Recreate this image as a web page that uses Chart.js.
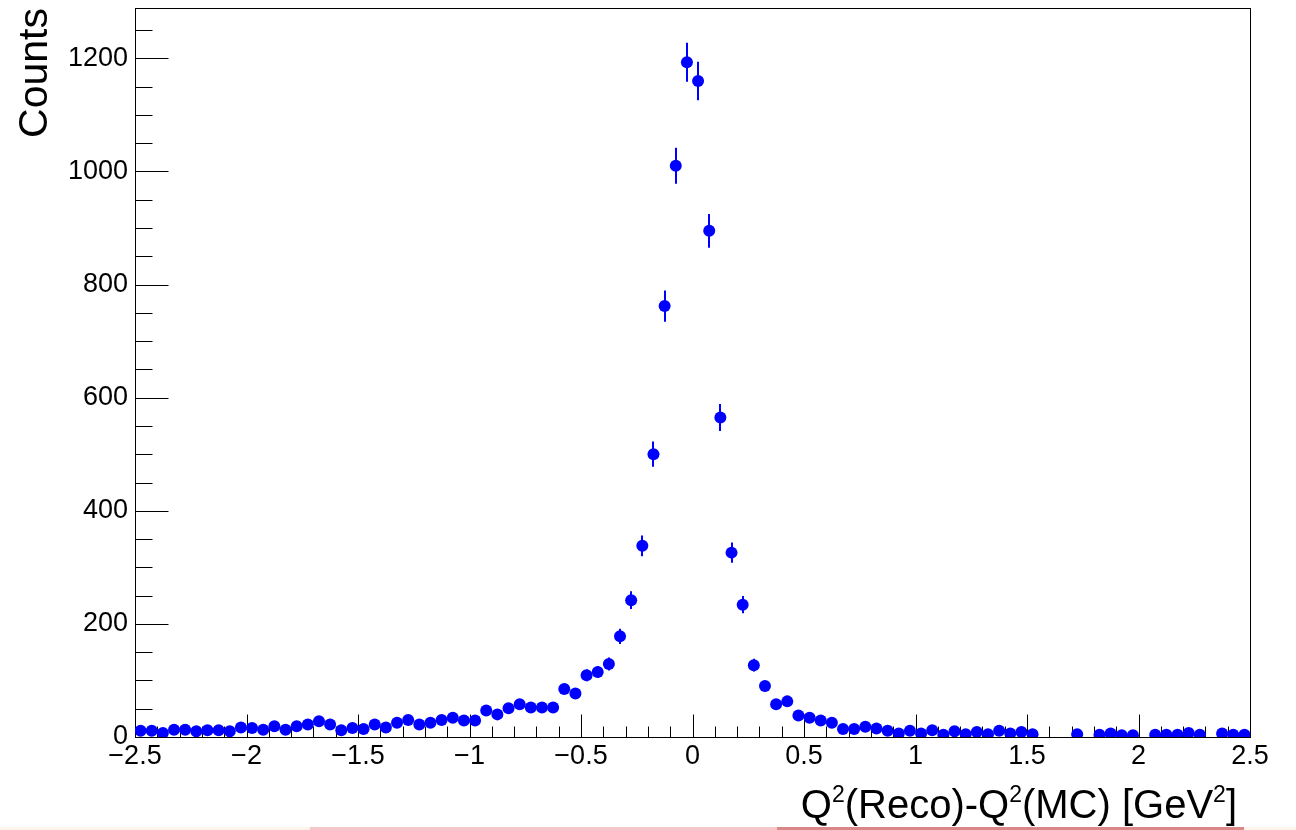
<!DOCTYPE html>
<html lang="en">
<head>
<meta charset="UTF-8">
<title>Q2 resolution</title>
<script src="https://cdn.jsdelivr.net/npm/chart.js"></script>
<style>
    * { margin: 0; padding: 0; box-sizing: border-box; }
    body { background: #fff; width: 1296px; height: 830px; overflow: hidden; position: relative; }
    #chart { position: absolute; left: 0; top: 0; }
    .strip { position: absolute; top: 827px; height: 3px; }
</style>
</head>
<body>
<canvas id="chart" width="1296" height="830"></canvas>
<div class="strip" style="left:0;width:310px;background:#fdf4ee"></div>
<div class="strip" style="left:310px;width:467px;background:#f4c8c8"></div>
<div class="strip" style="left:777px;width:467px;background:#d98787"></div>
<div class="strip" style="left:1244px;width:52px;background:#fdf4ee"></div>

<script>
    // histogram binning: 100 bins from -2.5 to 2.5
    const binLow = -2.5;
    const binWidth = 0.05;

    // counts per bin (null = empty bin, not drawn)
    const counts = [
        11, 11, 7, 13, 13, 10, 12, 12, 10, 17,
        16, 13, 19, 13, 19, 22, 28, 22, 12, 16,
        14, 22, 17, 25, 30, 22, 25, 30, 34, 29,
        29, 47, 40, 51, 58, 52, 52, 52, 85, 77,
        109, 115, 129, 178, 242, 338, 500, 762, 1010, 1193,
        1160, 895, 565, 326, 234, 127, 90, 58, 63, 38,
        34, 29, 25, 14, 14, 18, 15, 11, 6, 11,
        6, 12, 4, 10, 5, 9, 5, 11, 6, 9,
        5, null, null, null, 5, null, 4, 6, 3, 3,
        null, 4, 4, 4, 7, 4, null, 6, 4, 4
    ];

    const xTicks = [-2.5, -2, -1.5, -1, -0.5, 0, 0.5, 1, 1.5, 2, 2.5];
    const yTicks = [0, 200, 400, 600, 800, 1000, 1200];
    const yMax = 1289;

    const xTitle = [['Q', 0], ['2', 1], ['(Reco)-Q', 0], ['2', 1], ['(MC) [GeV', 0], ['2', 1], [']', 0]];
    const yTitle = 'Counts';

    const FONT = "'Liberation Sans', Arial, Helvetica, sans-serif";
    const BLUE = '#0000ff';

    const center = i => binLow + binWidth * (i + 0.5);
    const points = [];
    counts.forEach((c, i) => { if (c !== null) points.push({ x: center(i), y: c }); });

    const fmt = v => {
        const s = String(Math.round(v * 10) / 10);
        return s.replace('-', '\u2212');
    };

    // ROOT-like frame, inward ticks, error bars and x title
    const rootStyle = {
        id: 'rootStyle',
        beforeDatasetsDraw(chart) {
            const { ctx, chartArea: a, scales: { x, y } } = chart;
            ctx.save();

            // error bars (sqrt N)
            ctx.strokeStyle = BLUE;
            ctx.lineWidth = 2;
            counts.forEach((c, i) => {
                if (c === null) return;
                const e = Math.sqrt(c);
                const px = Math.round(x.getPixelForValue(center(i)));
                ctx.beginPath();
                ctx.moveTo(px, y.getPixelForValue(Math.max(c - e, 0)));
                ctx.lineTo(px, y.getPixelForValue(c + e));
                ctx.stroke();
            });

            // frame
            ctx.strokeStyle = '#000';
            ctx.lineWidth = 1;
            ctx.strokeRect(Math.round(a.left) + 0.5, Math.round(a.top) + 0.5,
                Math.round(a.right - a.left), Math.round(a.bottom - a.top));

            // x ticks every 0.1, major every 0.5
            const yb = Math.round(a.bottom) + 0.5;
            for (let k = 0; k <= 50; k++) {
                const px = Math.round(x.getPixelForValue(binLow + k * 0.1)) + 0.5;
                const len = k % 5 === 0 ? 23 : 11;
                ctx.beginPath();
                ctx.moveTo(px, yb);
                ctx.lineTo(px, yb - len);
                ctx.stroke();
            }

            // y ticks every 50, major every 200
            const xl = Math.round(a.left) + 0.5;
            for (let k = 0; k * 50 <= yMax; k++) {
                const py = Math.round(y.getPixelForValue(k * 50)) + 0.5;
                const len = k % 4 === 0 ? 33 : 17;
                ctx.beginPath();
                ctx.moveTo(xl, py);
                ctx.lineTo(xl + len, py);
                ctx.stroke();
            }
            ctx.restore();
        },
        afterDraw(chart) {
            const { ctx } = chart;
            ctx.save();
            ctx.fillStyle = '#000';
            ctx.textBaseline = 'alphabetic';
            const big = '40px ' + FONT, small = '23px ' + FONT;
            let total = 0;
            xTitle.forEach(([t, sup]) => { ctx.font = sup ? small : big; total += ctx.measureText(t).width; });
            let cx = 1237 - total;
            const base = 818;
            xTitle.forEach(([t, sup]) => {
                ctx.font = sup ? small : big;
                ctx.fillText(t, cx, sup ? base - 16 : base);
                cx += ctx.measureText(t).width;
            });
            ctx.restore();
        }
    };

    new Chart(document.getElementById('chart'), {
        type: 'scatter',
        data: {
            datasets: [{
                data: points,
                pointRadius: 6,
                pointHoverRadius: 6,
                pointBackgroundColor: BLUE,
                pointBorderWidth: 0,
                pointBorderColor: BLUE
            }]
        },
        options: {
            responsive: false,
            animation: false,
            devicePixelRatio: 1,
            layout: { padding: { top: 8, right: 46, left: 0, bottom: 0 } },
            plugins: { legend: { display: false }, tooltip: { enabled: false } },
            scales: {
                x: {
                    type: 'linear',
                    min: -2.5,
                    max: 2.5,
                    afterFit: s => { s.height = 93; },
                    afterBuildTicks: s => { s.ticks = xTicks.map(v => ({ value: v })); },
                    grid: { display: false, drawTicks: false },
                    border: { display: false },
                    ticks: {
                        color: '#000',
                        font: { family: FONT, size: 27 },
                        padding: 3,
                        maxRotation: 0,
                        autoSkip: false,
                        callback: v => fmt(v)
                    }
                },
                y: {
                    min: 0,
                    max: yMax,
                    afterFit: s => { s.width = 135; s.paddingTop = 0; s.paddingBottom = 0; },
                    afterBuildTicks: s => { s.ticks = yTicks.map(v => ({ value: v })); },
                    grid: { display: false, drawTicks: false },
                    border: { display: false },
                    ticks: {
                        color: '#000',
                        font: { family: FONT, size: 27 },
                        padding: 7,
                        autoSkip: false,
                        callback: v => fmt(v)
                    },
                    title: {
                        display: true,
                        text: yTitle,
                        align: 'end',
                        color: '#000',
                        font: { family: FONT, size: 41 },
                        padding: { top: 11, bottom: 0 }
                    }
                }
            }
        },
        plugins: [rootStyle]
    });
</script>
</body>
</html>
